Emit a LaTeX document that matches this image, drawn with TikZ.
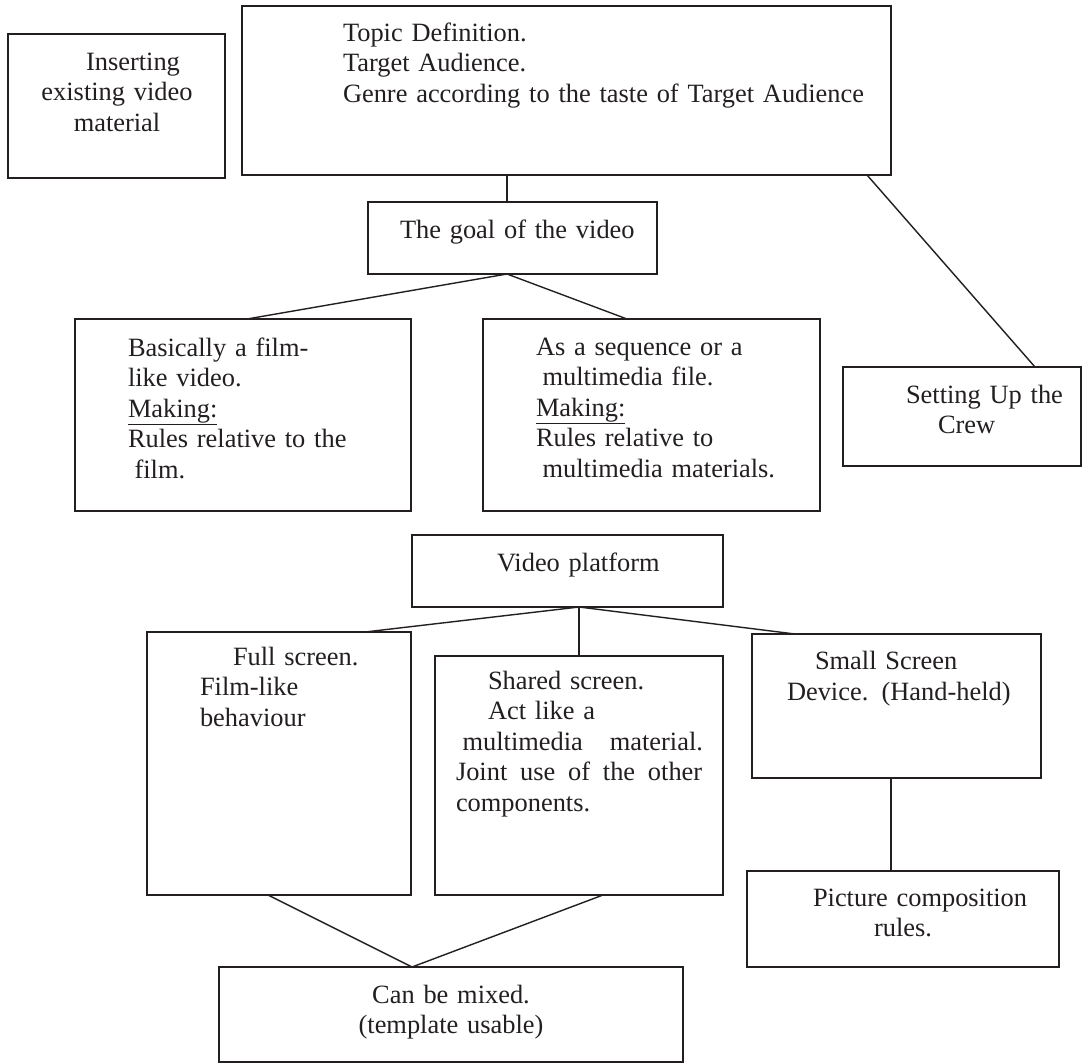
\documentclass[tikz,border=0pt]{standalone}
\usepackage{fontspec}
\setmainfont{Liberation Serif}
\usetikzlibrary{calc}
\definecolor{ink}{HTML}{231F20}
\begin{document}
\begin{tikzpicture}[x=1pt,y=-1pt,
  box/.style={draw=ink, line width=1.8pt, inner sep=0pt, outer sep=0pt},
  link/.style={draw=ink, line width=1.4pt},
  txt/.style={inner sep=0pt, outer sep=0pt, anchor=base west, align=left, text width=560pt, text=ink,
    font=\fontsize{26.4}{30.5}\selectfont},
  ctxt/.style={inner sep=0pt, outer sep=0pt, anchor=base, align=center, text width=400pt, text=ink,
    font=\fontsize{26.4}{30.5}\selectfont}]
\useasboundingbox[fill=white] (0,0) rectangle (1084,1063);

% boxes
\node[box, minimum width=217, minimum height=144] (ins) at (116.5,106) {};
\node[box, minimum width=649, minimum height=169] (topic) at (566.5,90.5) {};
\node[box, minimum width=289, minimum height=72] (goal) at (512.5,238) {};
\node[box, minimum width=336, minimum height=192] (basic) at (243,415) {};
\node[box, minimum width=337, minimum height=192] (seq) at (651.5,415) {};
\node[box, minimum width=238, minimum height=99] (crew) at (962,416.5) {};
\node[box, minimum width=311, minimum height=72] (vp) at (567.5,571) {};
\node[box, minimum width=264, minimum height=263] (full) at (279,763.5) {};
\node[box, minimum width=288, minimum height=239] (shared) at (579,775.5) {};
\node[box, minimum width=289, minimum height=144] (small) at (896.5,706) {};
\node[box, minimum width=312, minimum height=96] (pict) at (903,919) {};
\node[box, minimum width=464, minimum height=95] (mixed) at (451,1014.5) {};

% connectors
\draw[link] ([xshift=265]topic.south west) -- ([xshift=139]goal.north west);
\draw[link] ([xshift=625]topic.south west) -- ([xshift=192]crew.north west);
\draw[link] ([xshift=139]goal.south west) -- ([xshift=172]basic.north west);
\draw[link] ([xshift=139]goal.south west) -- ([xshift=144]seq.north west);
\draw[link] ([xshift=167]vp.south west) -- ([xshift=218]full.north west);
\draw[link] ([xshift=167]vp.south west) -- ([xshift=144]shared.north west);
\draw[link] ([xshift=167]vp.south west) -- ([xshift=43]small.north west);
\draw[link] ([xshift=139]small.south west) -- ([xshift=144]pict.north west);
\draw[link] ([xshift=121]full.south west) -- ([xshift=193]mixed.north west);
\draw[link] ([xshift=168]shared.south west) -- ([xshift=193]mixed.north west);

% texts
\node[ctxt] (tins) at (117,70) {\hspace*{32pt}Inserting\\existing video\\material};
\node[txt] (ttopic) at (343,41) {Topic Definition.\\Target Audience.\\Genre according to the taste of Target Audience};
\node[txt] (tgoal) at (400,238) {The goal of the video};
\node[txt] (tbasic) at (128,356) {Basically a film-\\like video.\\\underline{Making:}\\Rules relative to the\\\hspace*{6.6pt}film.};
\node[txt] (tseq) at (536,355) {As a sequence or a\\\hspace*{6.6pt}multimedia file.\\\underline{Making:}\\Rules relative to\\\hspace*{6.6pt}multimedia materials.};
\node[txt] (tcrew) at (906,403) {Setting Up the\\\hspace*{32pt}Crew};
\node[txt] (tvp) at (497,571) {Video platform};
\node[txt] (tfull) at (200,665) {\hspace*{33pt}Full screen.\\Film-like\\behaviour};
\node[txt] (tshared) at (456,689) {\hspace*{32pt}Shared screen.\\\hspace*{32pt}Act like a\\\hspace*{6.6pt}multimedia\hspace{27pt}material.\\Joint\hspace{12.8pt}use\hspace{12.8pt}of\hspace{12.8pt}the\hspace{12.8pt}other\\components.};
\node[txt] (tsmall) at (787,669.5) {\hspace*{28pt}Small Screen\\Device. (Hand-held)};
\node[txt] (tpict) at (813,906) {Picture composition\\\hspace*{61pt}rules.};
\node[ctxt] (tmixed) at (451,1003) {Can be mixed.\\(template usable)};
\end{tikzpicture}
\end{document}
